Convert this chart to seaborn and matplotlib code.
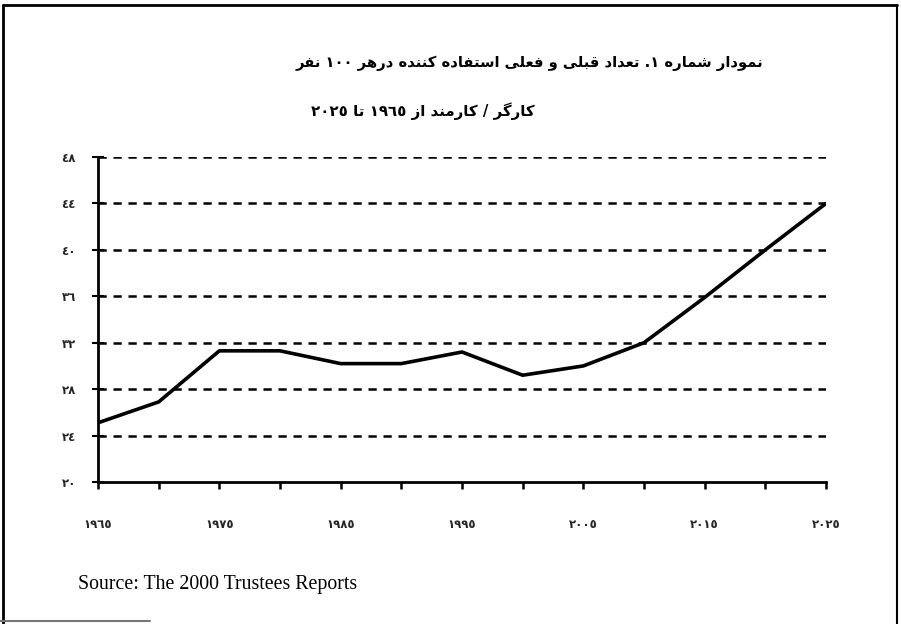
import matplotlib
matplotlib.use("Agg")
import matplotlib.pyplot as plt
import seaborn as sns
import pandas as pd
from matplotlib.lines import Line2D

# ---------------- data ----------------
years = [1965, 1970, 1975, 1980, 1985, 1990, 1995, 2000, 2005, 2010, 2015, 2020, 2025]
values = [25.1, 26.9, 31.3, 31.3, 30.2, 30.2, 31.2, 29.2, 30.0, 32.0, 35.9, 40.0, 44.0]
y_ticks = [20, 24, 28, 32, 36, 40, 44, 48]
y_tick_labels = ["٢٠", "٢٤", "٢٨", "٣٢", "٣٦", "٤٠", "٤٤", "٤٨"]
x_ticks = [1965, 1970, 1975, 1980, 1985, 1990, 1995, 2000, 2005, 2010, 2015, 2020, 2025]
x_tick_labels = ["١٩٦٥", "", "١٩٧٥", "", "١٩٨٥", "", "١٩٩٥", "", "٢٠٠٥", "", "٢٠١٥", "", "٢٠٢٥"]
title_line1 = "نمودار شماره ١. تعداد قبلی و فعلی استفاده کننده درهر ١٠٠ نفر"
title_line2 = "کارگر / کارمند از ١٩٦٥ تا ٢٠٢٥"
source_text = "Source: The 2000 Trustees Reports"

# ------------- simple Arabic/Persian shaping (matplotlib has no RTL shaping) -------------
FORMS = {
    "ا": ("\uFE8D", "\uFE8E", None, None),
    "ب": ("\uFE8F", "\uFE90", "\uFE91", "\uFE92"),
    "ت": ("\uFE95", "\uFE96", "\uFE97", "\uFE98"),
    "د": ("\uFEA9", "\uFEAA", None, None),
    "ر": ("\uFEAD", "\uFEAE", None, None),
    "ز": ("\uFEAF", "\uFEB0", None, None),
    "س": ("\uFEB1", "\uFEB2", "\uFEB3", "\uFEB4"),
    "ش": ("\uFEB5", "\uFEB6", "\uFEB7", "\uFEB8"),
    "ع": ("\uFEC9", "\uFECA", "\uFECB", "\uFECC"),
    "ف": ("\uFED1", "\uFED2", "\uFED3", "\uFED4"),
    "ق": ("\uFED5", "\uFED6", "\uFED7", "\uFED8"),
    "ل": ("\uFEDD", "\uFEDE", "\uFEDF", "\uFEE0"),
    "م": ("\uFEE1", "\uFEE2", "\uFEE3", "\uFEE4"),
    "ن": ("\uFEE5", "\uFEE6", "\uFEE7", "\uFEE8"),
    "ه": ("\uFEE9", "\uFEEA", "\uFEEB", "\uFEEC"),
    "و": ("\uFEED", "\uFEEE", None, None),
    "ک": ("\uFB8E", "\uFB8F", "\uFB90", "\uFB91"),
    "گ": ("\uFB92", "\uFB93", "\uFB94", "\uFB95"),
    "ی": ("\uFBFC", "\uFBFD", "\uFBFE", "\uFBFF"),
}
DIGITS = set("٠١٢٣٤٥٦٧٨٩0123456789")


def shape_rtl(text):
    out = []
    n = len(text)
    for i, c in enumerate(text):
        if c not in FORMS:
            out.append(c)
            continue
        iso, fin, ini, med = FORMS[c]
        prev = text[i - 1] if i > 0 else ""
        nxt = text[i + 1] if i + 1 < n else ""
        join_prev = prev in FORMS and FORMS[prev][2] is not None
        join_next = nxt in FORMS and ini is not None
        if join_prev and join_next:
            out.append(med)
        elif join_prev:
            out.append(fin)
        elif join_next:
            out.append(ini)
        else:
            out.append(iso)
    s = "".join(out)[::-1]
    # restore left-to-right order of digit runs
    res, run = [], []
    for ch in s:
        if ch in DIGITS:
            run.append(ch)
        else:
            if run:
                res.append("".join(run[::-1]))
                run = []
            res.append(ch)
    if run:
        res.append("".join(run[::-1]))
    return "".join(res)


# ---------------- figure ----------------
sns.set_style("white")
plt.rcParams["font.family"] = ["DejaVu Sans"]

fig = plt.figure(figsize=(9.01, 6.24), dpi=100)
ax = fig.add_axes([98 / 901, 1 - 482 / 624, (826 - 98) / 901, (482 - 157) / 624])

df = pd.DataFrame({"year": years, "value": values})
sns.lineplot(data=df, x="year", y="value", ax=ax, color="black", linewidth=2.6, zorder=3)

ax.set_xlim(1965, 2025)
ax.set_ylim(20, 48)
ax.set_yticks(y_ticks)
ax.set_yticklabels(y_tick_labels, fontsize=8.5, fontweight="bold")
ax.set_xticks(x_ticks)
ax.set_xticklabels(x_tick_labels, fontsize=8.5, fontweight="bold")
ax.set_xlabel("")
ax.set_ylabel("")

for y in y_ticks[1:]:
    ax.axhline(y, color="black", linewidth=1.8, linestyle=(0, (3.3, 2.7)), zorder=1)

for s in ["top", "right"]:
    ax.spines[s].set_visible(False)
for s in ["left", "bottom"]:
    ax.spines[s].set_color("black")
    ax.spines[s].set_linewidth(2.0)

ax.tick_params(axis="x", bottom=True, direction="out", length=5, width=1.8,
               color="black", pad=21)
ax.tick_params(axis="y", left=True, direction="inout", length=8, width=1.5,
               color="black", pad=12)

# titles
fig.text(529 / 901, 1 - 63 / 624, shape_rtl(title_line1), ha="center", va="center",
         fontsize=10.6, fontweight="bold", color="black")
fig.text(423 / 901, 1 - 111 / 624, shape_rtl(title_line2), ha="center", va="center",
         fontsize=10.8, fontweight="bold", color="black")

# source
fig.text(78 / 901, 1 - 585 / 624, source_text, ha="left", va="center",
         fontsize=14.3, family="Liberation Serif", color="black")

# frame
fig.add_artist(Line2D([3 / 901, 897 / 901], [1 - 5 / 624, 1 - 5 / 624], color="black",
                      linewidth=2, transform=fig.transFigure))
fig.add_artist(Line2D([3 / 901, 3 / 901], [1 - 5 / 624, 0], color="black",
                      linewidth=2, transform=fig.transFigure))
fig.add_artist(Line2D([897 / 901, 897 / 901], [1 - 5 / 624, 0], color="black",
                      linewidth=1.5, transform=fig.transFigure))
fig.add_artist(Line2D([0, 150 / 901], [1 - 621 / 624, 1 - 621 / 624], color="#777777",
                      linewidth=1.5, transform=fig.transFigure))

fig.savefig("out.png", dpi=100)
